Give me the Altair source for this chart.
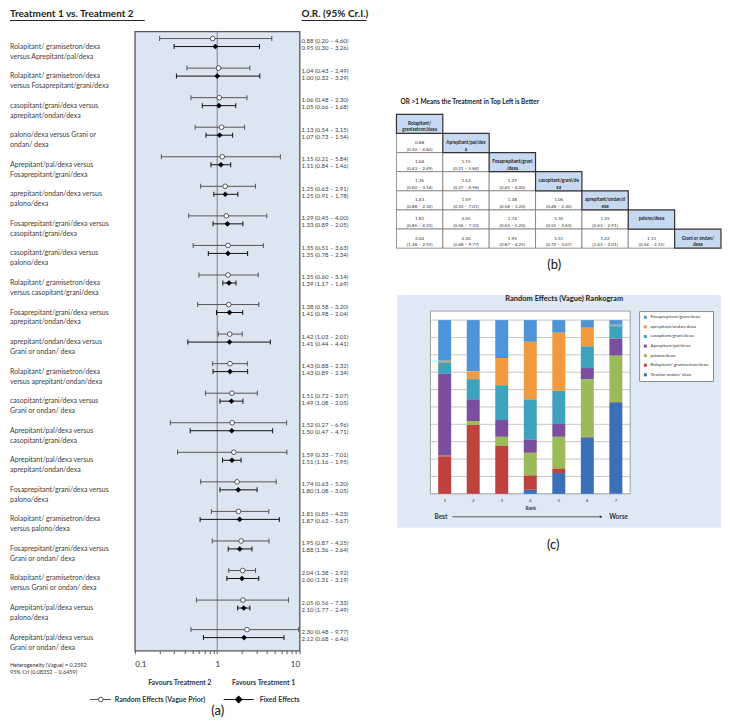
import altair as alt
import pandas as pd

FONT = "Lato"

# ---------------- (a) forest plot data ----------------
comparisons = [
    "Rolapitant/ gramisetron/dexa\nversus Aprepitant/pal/dexa",
    "Rolapitant/ gramisetron/dexa\nversus Fosaprepitant/grani/dexa",
    "casopitant/grani/dexa versus\naprepitant/ondan/dexa",
    "palono/dexa versus Grani or\nondan/ dexa",
    "Aprepitant/pal/dexa versus\nFosaprepitant/grani/dexa",
    "aprepitant/ondan/dexa versus\npalono/dexa",
    "Fosaprepitant/grani/dexa versus\ncasopitant/grani/dexa",
    "casopitant/grani/dexa versus\npalono/dexa",
    "Rolapitant/ gramisetron/dexa\nversus casopitant/grani/dexa",
    "Fosaprepitant/grani/dexa versus\naprepitant/ondan/dexa",
    "aprepitant/ondan/dexa versus\nGrani or ondan/ dexa",
    "Rolapitant/ gramisetron/dexa\nversus aprepitant/ondan/dexa",
    "casopitant/grani/dexa versus\nGrani or ondan/ dexa",
    "Aprepitant/pal/dexa versus\ncasopitant/grani/dexa",
    "Aprepitant/pal/dexa versus\naprepitant/ondan/dexa",
    "Fosaprepitant/grani/dexa versus\npalono/dexa",
    "Rolapitant/ gramisetron/dexa\nversus palono/dexa",
    "Fosaprepitant/grani/dexa versus\nGrani or ondan/ dexa",
    "Rolapitant/ gramisetron/dexa\nversus Grani or ondan/ dexa",
    "Aprepitant/pal/dexa versus\npalono/dexa",
    "Aprepitant/pal/dexa versus\nGrani or ondan/ dexa",
]
re_or = [0.88, 1.04, 1.06, 1.13, 1.15, 1.25, 1.29, 1.35, 1.35, 1.38, 1.42, 1.43, 1.51, 1.52, 1.59, 1.74, 1.81, 1.95, 2.04, 2.05, 2.30]
re_lo = [0.20, 0.43, 0.48, 0.54, 0.21, 0.63, 0.45, 0.51, 0.60, 0.58, 1.03, 0.88, 0.72, 0.27, 0.33, 0.63, 0.85, 0.87, 1.38, 0.56, 0.48]
re_hi = [4.60, 2.49, 2.30, 2.15, 5.84, 2.91, 4.00, 3.63, 3.14, 3.20, 2.01, 2.32, 3.07, 6.96, 7.01, 5.20, 4.23, 4.25, 2.92, 7.33, 9.77]
fe_or = [0.95, 1.00, 1.05, 1.07, 1.11, 1.25, 1.33, 1.35, 1.39, 1.41, 1.41, 1.43, 1.49, 1.50, 1.51, 1.80, 1.87, 1.88, 2.00, 2.10, 2.12]
fe_lo = [0.30, 0.32, 0.66, 0.73, 0.84, 0.91, 0.89, 0.78, 1.17, 0.98, 0.44, 0.89, 1.08, 0.47, 1.16, 1.08, 0.62, 1.36, 1.31, 1.77, 0.68]
fe_hi = [3.26, 3.29, 1.68, 1.54, 1.46, 1.78, 2.05, 2.34, 1.69, 2.04, 4.41, 2.34, 2.05, 4.71, 1.95, 3.05, 5.67, 2.64, 3.19, 2.49, 6.46]
ref_or = [1]
x_tick_values = [0.1, 0.2, 0.3, 0.4, 0.5, 0.6, 0.7, 0.8, 0.9, 1, 2, 3, 4, 5, 6, 7, 8, 9, 10]
x_label_values = [0.1, 1, 10]

title_a = "Treatment 1 vs. Treatment 2"
title_or = "O.R. (95% Cr.I.)"
hetero_lines = ["Heterogeneity (Vague) = 0.2592", "95% CrI (0.08352 \u2013 0.6459)"]
favours = ["Favours Treatment 2", "Favours Treatment 1"]
legend_a = ["Random Effects (Vague Prior)", "Fixed Effects"]

# ---------------- (b) league table data ----------------
table_names = [
    "Rolapitant/\ngranisetron/dexa",
    "Aprepitant/pal/dex\na",
    "Fosaprepitant/grani\n/dexa",
    "casopitant/grani/de\nxa",
    "aprepitant/ondan/d\nexa",
    "palono/dexa",
    "Grani or ondan/\ndexa",
]
table_or = [[0.88], [1.04, 1.15], [1.35, 1.52, 1.29], [1.43, 1.59, 1.38, 1.06],
            [1.81, 2.05, 1.74, 1.35, 1.25], [2.04, 2.30, 1.95, 1.51, 1.42, 1.13]]
table_lo = [[0.20], [0.43, 0.21], [0.60, 0.27, 0.45], [0.88, 0.33, 0.58, 0.48],
            [0.85, 0.56, 0.63, 0.51, 0.63], [1.38, 0.48, 0.87, 0.72, 1.03, 0.54]]
table_hi = [[4.60], [2.49, 5.84], [3.14, 6.96, 4.00], [2.32, 7.01, 3.20, 2.30],
            [4.23, 7.33, 5.20, 3.63, 2.91], [2.92, 9.77, 4.25, 3.07, 2.01, 2.15]]
title_b = "OR >1 Means the Treatment in Top Left is Better"

# ---------------- (c) rankogram data ----------------
ranks = [1, 2, 3, 4, 5, 6, 7]
rank_treatments = [
    "Fosaprepitant/grani/dexa",
    "aprepitant/ondan/dexa",
    "casopitant/grani/dexa",
    "Aprepitant/pal/dexa",
    "palono/dexa",
    "Rolapitant/ gramisetron/dexa",
    "Granior ondan/ dexa",
]
rank_colors = ["#4f94d8", "#f29a3e", "#3ea3bd", "#7b4f9e", "#9bbb59", "#bf413d", "#3a70b8"]
prob_fosa = [0.234, 0.295, 0.218, 0.125, 0.073, 0.044, 0.027]
prob_ondan = [0.009, 0.045, 0.157, 0.331, 0.334, 0.107, 0.008]
prob_caso = [0.066, 0.116, 0.200, 0.231, 0.191, 0.125, 0.071]
prob_pal = [0.472, 0.125, 0.097, 0.077, 0.074, 0.064, 0.099]
prob_palono = [0.003, 0.023, 0.052, 0.130, 0.183, 0.332, 0.266]
prob_rola = [0.216, 0.396, 0.276, 0.083, 0.025, 0.004, 0.004]
prob_grani = [0.000, 0.000, 0.000, 0.023, 0.120, 0.324, 0.525]
rank_probs = [prob_fosa, prob_ondan, prob_caso, prob_pal, prob_palono, prob_rola, prob_grani]
y_tick_values = [0, 0.1, 0.2, 0.3, 0.4, 0.5, 0.6, 0.7, 0.8, 0.9, 1]
title_c = "Random Effects (Vague) Rankogram"
y_title_c = "Probability of Being Ranked"
x_title_c = "Rank"
best_worse = ["Best", "Worse"]


def fmt(o, l, h):
    return f"{o:.2f} ({l:.2f} \u2013 {h:.2f})"


def note(text, x, y, size=7, weight="normal", align="left", color="#333333"):
    return alt.Chart(pd.DataFrame({"t": [text]})).mark_text(
        align=align, baseline="middle", fontSize=size, fontWeight=weight,
        font=FONT, color=color
    ).encode(x=alt.value(x), y=alt.value(y), text="t:N")


# ================= (a) forest =================
n = len(comparisons)
fdf = pd.DataFrame({
    "label": comparisons,
    "re_or": re_or, "re_lo": re_lo, "re_hi": re_hi,
    "fe_or": fe_or, "fe_lo": fe_lo, "fe_hi": fe_hi,
})
fdf["pos_re"] = list(range(n))
fdf["pos_fe"] = [i + 0.27 for i in range(n)]
fdf["re_txt"] = [fmt(o, l, h) for o, l, h in zip(re_or, re_lo, re_hi)]
fdf["fe_txt"] = [fmt(o, l, h) for o, l, h in zip(fe_or, fe_lo, fe_hi)]

xscale = alt.Scale(type="log", domain=[0.1, 10], nice=False)
yscale = alt.Scale(domain=[-0.24, 20.71], reverse=True, nice=False, zero=False)
lab_arr = "[" + ",".join(str(v) for v in x_label_values) + "]"
xaxis = alt.Axis(values=x_tick_values, format="~g",
                 labelExpr=f"indexof({lab_arr}, datum.value) >= 0 ? datum.label : ''",
                 tickSize=3, tickColor="#555555", domain=False, grid=False,
                 labelFontSize=8, labelPadding=7, labelFont=FONT, labelColor="#333333",
                 title=None)


def X(f):
    return alt.X(f, type="quantitative", scale=xscale, axis=xaxis, title=None)


def Y(f):
    return alt.Y(f, type="quantitative", scale=yscale, axis=None, title=None)


base = alt.Chart(fdf)
ref = alt.Chart(pd.DataFrame({"x": ref_or})).mark_rule(color="#7f7f7f", strokeWidth=1).encode(x=X("x"))
re_line = base.mark_rule(color="#555555", strokeWidth=1).encode(x=X("re_lo"), x2="re_hi", y=Y("pos_re"))
re_cap1 = base.mark_tick(orient="vertical", size=5, thickness=1, color="#555555", opacity=1).encode(x=X("re_lo"), y=Y("pos_re"))
re_cap2 = base.mark_tick(orient="vertical", size=5, thickness=1, color="#555555", opacity=1).encode(x=X("re_hi"), y=Y("pos_re"))
fe_line = base.mark_rule(color="#111111", strokeWidth=1).encode(x=X("fe_lo"), x2="fe_hi", y=Y("pos_fe"))
fe_cap1 = base.mark_tick(orient="vertical", size=5, thickness=1, color="#111111", opacity=1).encode(x=X("fe_lo"), y=Y("pos_fe"))
fe_cap2 = base.mark_tick(orient="vertical", size=5, thickness=1, color="#111111", opacity=1).encode(x=X("fe_hi"), y=Y("pos_fe"))
re_pt = base.mark_point(shape="circle", filled=True, fill="white", stroke="#333333", strokeWidth=0.8,
                        size=22, opacity=1).encode(x=X("re_or"), y=Y("pos_re"))
fe_pt = base.mark_point(shape="diamond", filled=True, fill="black", stroke="black", strokeWidth=0.5,
                        size=26, opacity=1).encode(x=X("fe_or"), y=Y("pos_fe"))
lab_txt = base.mark_text(align="left", baseline="middle", lineBreak="\n", lineHeight=10,
                         fontSize=7, font=FONT, color="#404040").encode(
    x=alt.value(-125), y=Y("pos_fe"), text="label:N")
re_txt = base.mark_text(align="left", baseline="middle", dy=2.5, fontSize=6, font=FONT,
                        color="#404040").encode(x=alt.value(167), y=Y("pos_re"), text="re_txt:N")
fe_txt = base.mark_text(align="left", baseline="middle", dy=1.5, fontSize=6, font=FONT,
                        color="#404040").encode(x=alt.value(167), y=Y("pos_fe"), text="fe_txt:N")

underline_a = alt.Chart(pd.DataFrame({"a": [0]})).mark_rule(color="#222222", strokeWidth=1).encode(
    x=alt.value(-125), x2=alt.value(10), y=alt.value(-11))
underline_or = alt.Chart(pd.DataFrame({"a": [0]})).mark_rule(color="#222222", strokeWidth=1).encode(
    x=alt.value(167), x2=alt.value(232), y=alt.value(-11))

leg_re_line = alt.Chart(pd.DataFrame({"a": [0]})).mark_rule(color="#555555", strokeWidth=1).encode(
    x=alt.value(-45), x2=alt.value(-24), y=alt.value(669))
leg_re_pt = alt.Chart(pd.DataFrame({"a": [0]})).mark_point(shape="circle", filled=True, fill="white",
                                                          stroke="#333333", strokeWidth=0.8, size=22, opacity=1).encode(
    x=alt.value(-34), y=alt.value(669))
leg_fe_line = alt.Chart(pd.DataFrame({"a": [0]})).mark_rule(color="#111111", strokeWidth=1).encode(
    x=alt.value(89), x2=alt.value(119), y=alt.value(669))
leg_fe_pt = alt.Chart(pd.DataFrame({"a": [0]})).mark_point(shape="diamond", filled=True, fill="black",
                                                          stroke="black", size=26, opacity=1).encode(
    x=alt.value(104), y=alt.value(669))

forest = alt.layer(
    ref, re_line, re_cap1, re_cap2, fe_line, fe_cap1, fe_cap2, re_pt, fe_pt,
    lab_txt, re_txt, fe_txt,
    note(title_a, -125, -17, size=10, weight="bold", color="#222222"),
    note(title_or, 167, -17, size=10, weight="bold", color="#222222"),
    underline_a, underline_or,
    note(hetero_lines[0], -125, 634, size=5.5),
    note(hetero_lines[1], -125, 641, size=5.5),
    note(favours[0], 45, 652, size=7, weight="bold", align="center"),
    note(favours[1], 129, 652, size=7, weight="bold", align="center"),
    leg_re_line, leg_re_pt, leg_fe_line, leg_fe_pt,
    note(legend_a[0], -20, 669, size=7, weight="bold"),
    note(legend_a[1], 125, 669, size=7, weight="bold"),
    note("(a)", 83, 680, size=13, color="#111111", align="center"),
).properties(width=165, height=620,
             view=alt.ViewBackground(fill="#dce6f2", stroke="#555555", strokeWidth=1.3))

# ================= (b) league table =================
cells = []
for r, row in enumerate(table_or):
    for c, o in enumerate(row):
        cells.append({"row": r + 1, "col": c, "diag": 0,
                      "txt": f"{o:.2f}\n({table_lo[r][c]:.2f} \u2013 {table_hi[r][c]:.2f})"})
for i, nm in enumerate(table_names):
    cells.append({"row": i, "col": i, "diag": 1, "txt": nm})
tdf = pd.DataFrame(cells)

tx = alt.X("col:O", scale=alt.Scale(domain=list(range(7)), range=[-34, 291], paddingInner=0, paddingOuter=0), axis=None)
ty = alt.Y("row:O", scale=alt.Scale(domain=list(range(7)), range=[83, 217], paddingInner=0, paddingOuter=0), axis=None)
tbase = alt.Chart(tdf)
t_off = tbase.transform_filter("datum.diag == 0").mark_rect(fill="white", stroke="#7a7a7a", strokeWidth=0.8).encode(x=tx, y=ty)
t_diag = tbase.transform_filter("datum.diag == 1").mark_rect(fill="#c6d9f1", stroke="#333333", strokeWidth=1.2).encode(x=tx, y=ty)
t_txt = tbase.transform_filter("datum.diag == 0").mark_text(lineBreak="\n", lineHeight=6.5, fontSize=4.6, font=FONT,
                                                              color="#333333").encode(x=tx, y=ty, text="txt:N")
t_dtxt = tbase.transform_filter("datum.diag == 1").mark_text(lineBreak="\n", lineHeight=6.5, fontSize=4.6, font=FONT,
                                                               fontWeight="bold", color="#222222").encode(x=tx, y=ty, text="txt:N")
table = alt.layer(
    t_off, t_diag, t_txt, t_dtxt,
    note(title_b, -30, 71, size=6.5, weight="bold", color="#222222"),
    note("(b)", 124, 234, size=13, color="#111111", align="center"),
).properties(width=200, height=217)

# ================= (c) rankogram =================
rrows = []
for ti, (tname, probs) in enumerate(zip(rank_treatments, rank_probs)):
    for rk, p in zip(ranks, probs):
        rrows.append({"rank": rk, "treatment": tname, "prob": p, "stack": len(rank_treatments) - ti})
rdf = pd.DataFrame(rrows)

ryscale = alt.Scale(domain=[0, 1.052], nice=False, zero=True)
panel = alt.Chart(pd.DataFrame({"a": [0]})).mark_rect(fill="#dfe9f5").encode(
    x=alt.value(-33), x2=alt.value(291), y=alt.value(-16), y2=alt.value(217))
frame = alt.Chart(pd.DataFrame({"a": [0]})).mark_rect(fill="white", stroke="#8c8c8c", strokeWidth=0.8).encode(
    x=alt.value(0), x2=alt.value(200), y=alt.value(0), y2=alt.value(183))
grid = alt.Chart(pd.DataFrame({"v": y_tick_values[1:]})).mark_rule(color="#a0a0a0", strokeWidth=0.6).encode(
    y=alt.Y("v:Q", scale=ryscale, axis=None))
bars = alt.Chart(rdf).mark_bar(size=13).encode(
    x=alt.X("rank:O", scale=alt.Scale(paddingInner=0, paddingOuter=0),
            axis=alt.Axis(labelAngle=0, labelFontSize=4.5, labelFont=FONT, labelColor="#333333",
                          ticks=False, domain=False, labelPadding=4, title=x_title_c,
                          titleFontSize=4.8, titleFont=FONT, titleFontWeight="bold", titleColor="#333333",
                          titlePadding=3, zindex=1)),
    y=alt.Y("prob:Q", stack="zero", scale=ryscale,
            axis=alt.Axis(values=y_tick_values, format="~g", grid=False, domain=False, ticks=False,
                          labelFontSize=4.5, labelFont=FONT, labelColor="#333333", labelPadding=4,
                          title=y_title_c, titleFontSize=4.8, titleFont=FONT, titleFontWeight="bold",
                          titleColor="#333333", titlePadding=6, zindex=1)),
    color=alt.Color("treatment:N", scale=alt.Scale(domain=rank_treatments, range=rank_colors),
                    legend=alt.Legend(orient="none", legendX=209, legendY=0, title=None, padding=4,
                                      strokeColor="#8c8c8c", fillColor="white", symbolType="square",
                                      symbolSize=9, symbolStrokeWidth=0, labelFontSize=4.5,
                                      labelFont=FONT, labelColor="#333333", rowPadding=4.6,
                                      labelLimit=200, labelOffset=3)),
    order=alt.Order("stack:Q", sort="ascending"),
)
arrow_line = alt.Chart(pd.DataFrame({"a": [0]})).mark_rule(color="#333333", strokeWidth=0.8).encode(
    x=alt.value(22), x2=alt.value(170), y=alt.value(206))
arrow_head = alt.Chart(pd.DataFrame({"a": [0]})).mark_point(shape="triangle-right", filled=True, color="#333333",
                                                           size=10, opacity=1).encode(
    x=alt.value(171), y=alt.value(206))
rank = alt.layer(
    panel, frame, grid, bars,
    note(title_c, 134, -12, size=7.5, weight="bold", align="center", color="#222222"),
    note(best_worse[0], 4, 206, size=6.5, weight="bold"),
    arrow_line, arrow_head,
    note(best_worse[1], 179, 206, size=6.5, weight="bold"),
    note("(c)", 123, 234, size=13, color="#111111", align="center"),
).properties(width=200, height=183)

right = alt.vconcat(table, rank, spacing=63, bounds="flush").resolve_legend(color="independent")
chart = (alt.hconcat(forest, right, spacing=131, bounds="flush")
         .resolve_legend(color="independent")
         .properties(padding=0)
         .configure_view(stroke=None))

chart.save("out.html", embed_options={"renderer": "svg", "actions": False})
